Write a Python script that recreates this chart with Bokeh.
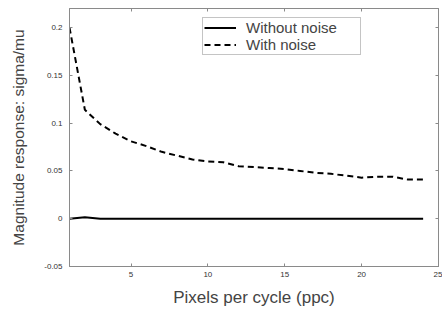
from bokeh.plotting import figure
from bokeh.models import LinearAxis, FixedTicker, Range1d, Legend, LegendItem
from bokeh.embed import file_html
from bokeh.resources import INLINE

ppc = list(range(1, 25))
without_noise = [0.0, 0.0015] + [0.0] * 22
with_noise = [0.200, 0.114, 0.099, 0.089, 0.081, 0.076, 0.070, 0.066, 0.062, 0.060,
              0.059, 0.055, 0.054, 0.053, 0.052, 0.050, 0.048, 0.047, 0.045, 0.043,
              0.044, 0.044, 0.041, 0.041]
x_ticks = [5, 10, 15, 20, 25]
y_ticks = [-0.05, 0, 0.05, 0.1, 0.15, 0.2]
y_tick_labels = {-0.05: "-0.05", 0: "0", 0.05: "0.05", 0.1: "0.1", 0.15: "0.15", 0.2: "0.2"}

FONT = "Liberation Sans"
GREY = "#8a8a8a"

p = figure(width=442, height=313, output_backend="svg", toolbar_location=None,
           x_range=Range1d(1, 25), y_range=Range1d(-0.05, 0.22),
           min_border_left=69, min_border_right=4, min_border_top=8, min_border_bottom=47,
           x_axis_location=None, y_axis_location=None)
p.grid.visible = False
p.outline_line_color = GREY
p.background_fill_color = "white"
p.border_fill_color = "white"

def style(ax, show_labels=True):
    ax.axis_line_color = GREY
    ax.major_tick_line_color = GREY
    ax.major_tick_in = 3
    ax.major_tick_out = 0
    ax.minor_tick_line_color = None
    ax.major_label_text_font = FONT
    ax.major_label_text_font_size = "8px"
    ax.major_label_text_color = "#333333"
    if not show_labels:
        ax.major_label_text_color = None
        ax.major_label_text_font_size = "0px"
        ax.major_label_standoff = 0

xb = LinearAxis(ticker=FixedTicker(ticks=x_ticks), axis_label="Pixels per cycle (ppc)")
style(xb)
xb.major_label_standoff = 5
xb.axis_label_text_font = FONT
xb.axis_label_text_font_size = "17px"
xb.axis_label_text_font_style = "normal"
xb.axis_label_standoff = 8
p.add_layout(xb, "below")

yl = LinearAxis(ticker=FixedTicker(ticks=y_ticks), axis_label="Magnitude response: sigma/mu")
style(yl)
yl.major_label_overrides = y_tick_labels
yl.major_label_standoff = 7
yl.axis_label_text_font = FONT
yl.axis_label_text_font_size = "15.5px"
yl.axis_label_text_font_style = "normal"
yl.axis_label_standoff = 14
p.add_layout(yl, "left")

xt = LinearAxis(ticker=FixedTicker(ticks=x_ticks))
style(xt, False)
p.add_layout(xt, "above")
yr = LinearAxis(ticker=FixedTicker(ticks=y_ticks))
style(yr, False)
p.add_layout(yr, "right")

r1 = p.line(ppc, without_noise, line_color="black", line_width=2)
r2 = p.line(ppc, with_noise, line_color="black", line_width=2, line_dash="6 4")

legend = Legend(items=[LegendItem(label="Without noise", renderers=[r1]),
                       LegendItem(label="With noise", renderers=[r2])],
                location=(133, 211))
legend.label_text_font = FONT
legend.label_text_font_size = "15px"
legend.label_height = 13
legend.glyph_height = 13
legend.glyph_width = 32
legend.label_width = 113
legend.label_standoff = 10
legend.padding = 1
legend.spacing = 0
legend.margin = 0
legend.border_line_color = GREY
legend.background_fill_color = "white"
legend.background_fill_alpha = 1
p.add_layout(legend, "center")

open("out.html", "w").write(file_html(p, INLINE))
